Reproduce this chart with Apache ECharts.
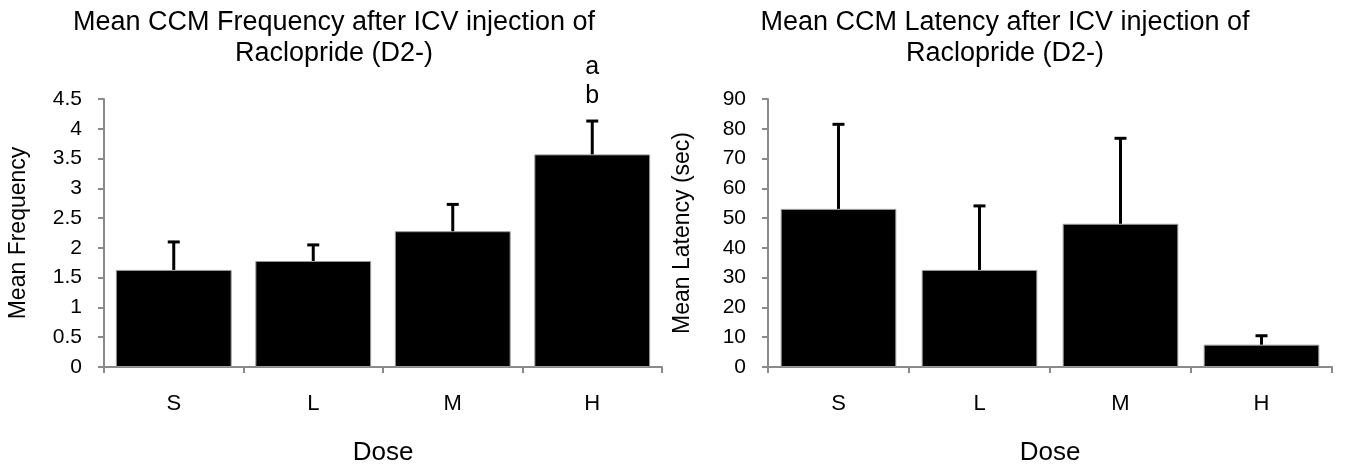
<!DOCTYPE html>
<html>
<head>
<meta charset="utf-8">
<script src="https://cdn.jsdelivr.net/npm/echarts@6/dist/echarts.min.js"></script>
<style>
  html, body { margin: 0; padding: 0; background: #fff; }
  #chart { width: 1345px; height: 471px; }
</style>
</head>
<body>
<div id="chart"></div>
<script>
  // doses on the x axis
  var doses = ['S', 'L', 'M', 'H'];

  // left panel: mean frequency, top of the error bar, letters above bars
  var freqMean = [1.63, 1.78, 2.28, 3.57];
  var freqUpper = [2.10, 2.05, 2.73, 4.13];
  var freqMarks = ['', '', '', 'a\nb'];

  // right panel: mean latency (sec), top of the error bar
  var latMean = [53.1, 32.6, 48.1, 7.5];
  var latUpper = [81.5, 54.1, 76.8, 10.5];
  var latMarks = ['', '', '', ''];

  var font = "'Liberation Sans', Arial, sans-serif";
  var axisGrey = '#8a8a8a';

  function errorRender(marks) {
    return function (params, api) {
      var x = api.value(0);
      var p0 = api.coord([x, api.value(1)]);
      var p1 = api.coord([x, api.value(2)]);
      var kids = [
        { type: 'line', shape: { x1: p0[0], y1: p0[1], x2: p1[0], y2: p1[1] },
          style: { stroke: '#000', lineWidth: 3 } },
        { type: 'line', shape: { x1: p1[0] - 6, y1: p1[1], x2: p1[0] + 6, y2: p1[1] },
          style: { stroke: '#000', lineWidth: 3 } }
      ];
      var m = marks[params.dataIndex];
      if (m) {
        kids.push({ type: 'text', x: p1[0], y: p1[1] - 10,
          style: { text: m, fill: '#000', fontSize: 25, fontFamily: font,
                   lineHeight: 29, align: 'center', verticalAlign: 'bottom' } });
      }
      return { type: 'group', children: kids };
    };
  }

  function errData(mean, upper) {
    return mean.map(function (v, i) { return [i, v, upper[i]]; });
  }

  function xAxisFor(idx) {
    return {
      type: 'category', gridIndex: idx, data: doses,
      name: 'Dose', nameLocation: 'middle', nameGap: 73,
      nameTextStyle: { fontSize: 26, color: '#000', fontFamily: font },
      axisLine: { lineStyle: { color: axisGrey, width: 2 } },
      axisTick: { show: true, length: 6, lineStyle: { color: axisGrey, width: 2 } },
      axisLabel: { margin: 26, fontSize: 22, color: '#000', fontFamily: font },
      splitLine: { show: false }
    };
  }

  function yAxisFor(idx, name, max, interval) {
    return {
      type: 'value', gridIndex: idx, min: 0, max: max, interval: interval,
      name: name, nameLocation: 'middle', nameGap: 74,
      nameTextStyle: { fontSize: 23, color: '#000', fontFamily: font },
      axisLine: { show: true, lineStyle: { color: axisGrey, width: 2 } },
      axisTick: { show: true, length: 6, lineStyle: { color: axisGrey, width: 2 } },
      axisLabel: { margin: 22, fontSize: 21, color: '#000', fontFamily: font },
      splitLine: { show: false }
    };
  }

  var chart = echarts.init(document.getElementById('chart'));
  chart.setOption({
    animation: false,
    backgroundColor: '#fff',
    title: [
      { text: 'Mean CCM Frequency after ICV injection of\nRaclopride (D2-)',
        left: 329, top: 2, textAlign: 'center',
        textStyle: { fontSize: 27, fontWeight: 'normal', color: '#000', fontFamily: font, lineHeight: 31 } },
      { text: 'Mean CCM Latency after ICV injection of\nRaclopride (D2-)',
        left: 1000, top: 2, textAlign: 'center',
        textStyle: { fontSize: 27, fontWeight: 'normal', color: '#000', fontFamily: font, lineHeight: 31 } }
    ],
    grid: [
      { left: 104, top: 99, width: 558, height: 272 },
      { left: 768, top: 99, width: 564, height: 272 }
    ],
    xAxis: [xAxisFor(0), xAxisFor(1)],
    yAxis: [
      yAxisFor(0, 'Mean Frequency', 4.5, 0.5),
      yAxisFor(1, 'Mean Latency (sec)', 90, 10)
    ],
    series: [
      { type: 'bar', xAxisIndex: 0, yAxisIndex: 0, data: freqMean, barCategoryGap: '17%',
        itemStyle: { color: '#000', borderColor: '#999', borderWidth: 1 } },
      { type: 'custom', xAxisIndex: 0, yAxisIndex: 0, data: errData(freqMean, freqUpper),
        renderItem: errorRender(freqMarks), z: 5 },
      { type: 'bar', xAxisIndex: 1, yAxisIndex: 1, data: latMean, barCategoryGap: '18%',
        itemStyle: { color: '#000', borderColor: '#999', borderWidth: 1 } },
      { type: 'custom', xAxisIndex: 1, yAxisIndex: 1, data: errData(latMean, latUpper),
        renderItem: errorRender(latMarks), z: 5 }
    ]
  });
</script>
</body>
</html>
